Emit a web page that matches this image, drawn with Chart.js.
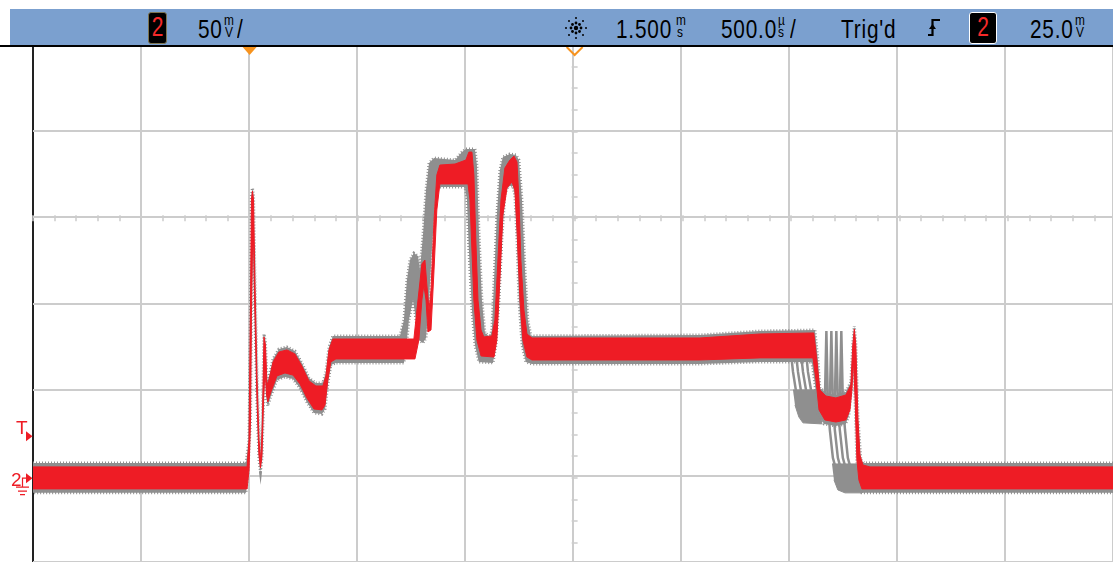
<!DOCTYPE html>
<html>
<head>
<meta charset="utf-8">
<script src="https://cdn.jsdelivr.net/npm/chart.js@4.4.1/dist/chart.umd.min.js"></script>
<style>
body{margin:0;background:#fff;overflow:hidden;}
#wrap{position:relative;width:1113px;height:562px;}
#scope{position:absolute;left:0;top:0;}
#bar{position:absolute;left:10px;top:9px;width:1103px;height:36px;background:#7ba0cf;}
#rule{position:absolute;left:0;top:45px;width:1113px;height:2px;background:#000;}
.t{position:absolute;top:16px;font:26px/26px "Liberation Sans",Arial,sans-serif;color:#000;transform:scaleX(0.8);transform-origin:0 0;letter-spacing:1px;white-space:nowrap;}
.u{position:absolute;font:14px/14px "Liberation Sans",Arial,sans-serif;color:#000;transform:scaleX(0.85);transform-origin:0 0;}
.box{position:absolute;top:12px;height:30px;background:#000;border-radius:3px;text-align:center;}
.box span{display:block;font:28px/28px "Liberation Sans",Arial,sans-serif;color:#f52a2a;transform:scaleX(0.75);}
svg{position:absolute;}
</style>
</head>
<body>
<div id="wrap">
  <canvas id="scope" width="1113" height="562"></canvas>
  <div id="bar"></div>
  <div id="rule"></div>
  <div class="box" style="left:148px;width:17px;border:1px solid #7d7450;"><span>2</span></div>
  <div class="t" style="left:198px">50</div>
  <div class="u" style="left:224px;top:13px">m</div>
  <div class="u" style="left:225px;top:25px">V</div>
  <div class="t" style="left:237px">/</div>
  <svg style="left:562px;top:14px" width="28" height="28" viewBox="0 0 28 28">
    <circle cx="14" cy="14" r="2.2"/>
    <g fill="#000">
      <circle cx="19" cy="14" r="1.4"/><circle cx="9" cy="14" r="1.4"/><circle cx="14" cy="19" r="1.4"/><circle cx="14" cy="9" r="1.4"/>
      <circle cx="17.5" cy="17.5" r="1.4"/><circle cx="10.5" cy="10.5" r="1.4"/><circle cx="17.5" cy="10.5" r="1.4"/><circle cx="10.5" cy="17.5" r="1.4"/>
      <circle cx="24" cy="14" r="1"/><circle cx="4" cy="14" r="1"/><circle cx="14" cy="24" r="1"/><circle cx="14" cy="4" r="1"/>
      <circle cx="21" cy="21" r="1"/><circle cx="7" cy="7" r="1"/><circle cx="21" cy="7" r="1"/><circle cx="7" cy="21" r="1"/>
    </g>
  </svg>
  <div class="t" style="left:616px">1.500</div>
  <div class="u" style="left:676px;top:13px">m</div>
  <div class="u" style="left:677px;top:25px">s</div>
  <div class="t" style="left:721px">500.0</div>
  <div class="u" style="left:778px;top:13px">µ</div>
  <div class="u" style="left:778px;top:25px">s</div>
  <div class="t" style="left:790px">/</div>
  <div class="t" style="left:841px">Trig'd</div>
  <svg style="left:926px;top:17px" width="16" height="22" viewBox="0 0 16 22">
    <path d="M2 18 H6.5 V3 H14" fill="none" stroke="#000" stroke-width="2.2"/>
    <path d="M3 12 L6.5 7 L10 12 Z" fill="#000"/>
  </svg>
  <div class="box" style="left:969px;width:26px;border:1px solid #fff;"><span>2</span></div>
  <div class="t" style="left:1030px">25.0</div>
  <div class="u" style="left:1075px;top:13px">m</div>
  <div class="u" style="left:1076px;top:25px">V</div>
</div>
<script>
// time in microseconds, level in millivolts
const timeDiv = 500;
const voltDiv = 50;
const xMin = -1000;
const xMax = 3985;
const yMin = -48.4;
const yMax = 250;
const triggerTime = 0;
const delayTime = 1500;
const centerLevel = 150;
const triggerLevel = 25;
const groundLevel = 0;

// red trace (current acquisition), upper and lower edge of the noise band
const redTop = [[-1000,6.5],[-12,6.5],[-3,22.0],[4,102.8],[8,160.5],[13,165.7],[18,160.5],[24,114.4],[34,56.7],[43,22.0],[52,9.3],[59,33.6],[66,81.5],[73,76.9],[80,53.8],[89,56.7],[108,67.1],[135,72.8],[172,74.0],[209,71.7],[241,64.7],[274,56.1],[306,53.2],[338,53.2],[352,59.0],[366,74.0],[384,80.3],[758,80.3],[777,102.8],[795,123.6],[809,125.9],[818,111.5],[828,97.1],[837,108.6],[851,149.0],[864,175.0],[878,180.7],[948,181.3],[998,183.6],[1012,188.2],[1026,188.2],[1035,175.0],[1044,137.4],[1054,102.8],[1068,85.5],[1081,81.5],[1118,82.1],[1132,91.3],[1146,125.9],[1160,160.5],[1178,179.0],[1201,183.6],[1220,185.9],[1234,182.5],[1243,160.5],[1252,125.9],[1266,97.1],[1280,83.2],[1303,80.9],[2078,80.9],[2355,83.2],[2604,83.8],[2618,68.2],[2632,50.9],[2660,47.4],[2706,46.3],[2752,48.0],[2775,53.8],[2784,76.9],[2791,86.1],[2798,76.9],[2808,33.6],[2817,13.4],[2831,7.6],[2863,6.5],[3985,6.5]];
const redBottom = [[-1000,-6.2],[-12,-6.2],[-3,4.7],[4,33.6],[8,91.3],[13,131.7],[18,137.4],[24,97.1],[34,45.1],[43,13.4],[50,5.9],[57,13.4],[64,45.1],[71,62.4],[78,48.0],[84,44.0],[98,49.7],[126,59.0],[163,60.7],[200,59.5],[232,54.4],[264,46.3],[297,39.9],[334,39.4],[348,42.2],[361,56.7],[375,67.1],[398,68.8],[763,68.8],[781,79.7],[795,102.8],[804,111.5],[814,102.8],[823,84.4],[837,85.5],[851,120.1],[864,154.8],[878,169.8],[1008,169.8],[1017,160.5],[1026,131.7],[1035,102.8],[1049,79.7],[1068,70.5],[1128,69.9],[1141,79.7],[1155,114.4],[1169,151.9],[1188,167.5],[1211,170.9],[1224,166.3],[1234,143.2],[1248,102.8],[1261,79.7],[1280,69.9],[1303,68.2],[2078,68.2],[2355,69.4],[2600,69.4],[2614,56.7],[2628,39.4],[2655,33.6],[2706,32.4],[2752,33.6],[2771,39.4],[2780,50.9],[2787,68.2],[2794,48.0],[2803,10.5],[2812,-1.0],[2826,-6.2],[3985,-6.2]];

// grey persistence of earlier acquisitions
const greyTop = [[-1000,8.8],[-17,8.8],[-3,22.0],[4,102.8],[8,163.4],[13,167.5],[18,162.8],[24,117.3],[34,59.5],[43,23.2],[52,10.5],[59,36.5],[66,83.2],[73,78.6],[80,55.5],[89,58.4],[108,68.8],[135,74.5],[172,75.7],[209,73.4],[241,66.5],[274,57.8],[306,54.9],[338,54.9],[352,61.3],[366,75.7],[384,82.1],[694,82.1],[712,91.3],[726,114.4],[740,125.9],[758,129.9],[777,128.2],[786,120.1],[800,140.3],[814,166.3],[828,181.9],[851,184.8],[948,183.6],[980,188.2],[998,190.0],[1040,190.0],[1049,180.7],[1058,143.2],[1072,102.8],[1086,83.8],[1109,81.5],[1118,85.5],[1128,114.4],[1141,151.9],[1155,177.8],[1169,185.3],[1201,187.1],[1229,186.5],[1243,183.6],[1257,160.5],[1271,120.1],[1284,91.3],[1298,82.1],[2078,82.6],[2355,84.9],[2609,85.5],[2623,68.2],[2632,52.0],[2660,49.2],[2706,48.0],[2752,49.7],[2775,55.5],[2784,78.0],[2791,87.8],[2798,78.0],[2808,34.7],[2821,10.5],[2835,8.8],[3985,8.8]];
const greyBottom = [[-1000,-8.5],[-17,-8.5],[-8,3.6],[4,33.6],[8,90.1],[13,128.8],[18,134.6],[24,94.2],[34,42.8],[43,10.5],[50,3.6],[57,11.7],[64,43.4],[71,60.1],[78,45.7],[84,41.7],[98,47.4],[126,56.7],[163,58.4],[200,57.2],[232,52.0],[264,44.0],[297,37.6],[334,37.0],[348,39.9],[361,54.4],[375,65.3],[398,66.5],[712,66.5],[721,74.0],[735,91.3],[754,102.8],[768,91.3],[781,79.7],[800,78.0],[814,80.9],[828,102.8],[841,131.7],[855,157.6],[869,168.0],[994,168.0],[1003,160.5],[1012,131.7],[1026,97.1],[1040,76.9],[1058,67.1],[1123,66.5],[1137,76.9],[1151,102.8],[1164,137.4],[1178,163.4],[1192,168.6],[1215,168.6],[1224,163.4],[1234,137.4],[1243,102.8],[1257,76.9],[1275,67.1],[1303,65.9],[2078,65.9],[2355,67.1],[2595,67.1],[2609,54.4],[2623,37.6],[2651,31.3],[2706,30.1],[2752,31.3],[2766,36.5],[2775,48.0],[2787,65.3],[2794,46.3],[2803,8.8],[2812,-2.8],[2826,-8.5],[3985,-8.5]];
const greyShelf = [[2508,50.9],[2632,50.9],[2641,31.3],[2554,31.9],[2535,35.3],[2517,42.2]];
const greyTail = [[2688,8.2],[2826,8.2],[2826,-8.5],[2748,-8.5],[2715,-6.8],[2697,-1.0]];
const ghostA = [[2448,74.0],[2498,72.8],[2508,61.3],[2521,50.9],[2540,45.1],[2641,42.8],[2655,44.0],[2662,84.9],[2669,44.0],[2678,27.8],[2692,11.7],[2711,3.0],[2748,0.1]];
const ghostB = [[2471,74.0],[2521,72.8],[2531,61.3],[2544,50.9],[2563,45.1],[2660,42.8],[2678,44.0],[2685,84.9],[2692,44.0],[2701,27.8],[2715,11.7],[2734,3.0],[2771,0.1]];
const ghostC = [[2494,74.0],[2544,72.8],[2554,61.3],[2568,50.9],[2586,45.1],[2688,42.8],[2701,44.0],[2708,84.9],[2715,44.0],[2724,27.8],[2738,11.7],[2757,3.0],[2794,0.1]];
const ghostD = [[2517,74.0],[2568,72.8],[2577,61.3],[2591,50.9],[2609,45.1],[2715,42.8],[2724,44.0],[2731,84.9],[2738,44.0],[2748,27.8],[2761,11.7],[2780,3.0],[2817,0.1]];

const red = "#ee1c25";
const grey = "#8f8f8f";
const gridColor = "#cccccc";
const orange = "#f7931e";

const pts = (arr) => arr.map(([x, y]) => ({ x, y }));
const band = (top, bottom) => pts(top.concat(bottom.slice().reverse()));

// dashed border gives the speckled noise fringe of the persistence display
const shape = (data, color, fringe) => ({
  data,
  fill: "shape",
  backgroundColor: color,
  borderColor: color,
  borderWidth: fringe ? 3 : 1,
  borderDash: fringe ? [1, 2] : [],
  pointRadius: 0,
});
const ghost = (data) => ({
  data: pts(data),
  fill: false,
  borderColor: grey,
  borderWidth: 2.5,
  pointRadius: 0,
});

const scopeMarks = {
  id: "scopeMarks",
  beforeDatasetsDraw(chart) {
    const { ctx, scales: { x, y } } = chart;
    const cx = x.getPixelForValue(delayTime);
    const cy = y.getPixelForValue(centerLevel);
    ctx.save();
    ctx.strokeStyle = gridColor;
    ctx.lineWidth = 1.5;
    ctx.beginPath();
    for (let t = xMin; t <= xMax; t += timeDiv / 5) {
      const px = Math.round(x.getPixelForValue(t));
      ctx.moveTo(px, cy - 3);
      ctx.lineTo(px, cy + 3);
    }
    for (let v = Math.ceil(yMin / (voltDiv / 4)) * (voltDiv / 4); v <= yMax; v += voltDiv / 4) {
      const py = Math.round(y.getPixelForValue(v));
      ctx.moveTo(cx - 3, py);
      ctx.lineTo(cx + 3, py);
    }
    ctx.stroke();
    ctx.restore();
  },
  afterDraw(chart) {
    const { ctx, chartArea: a, scales: { x, y } } = chart;
    ctx.save();
    // trigger position and delay markers
    const tx = x.getPixelForValue(triggerTime);
    ctx.fillStyle = orange;
    ctx.beginPath();
    ctx.moveTo(tx - 7, a.top + 2);
    ctx.lineTo(tx + 7, a.top + 2);
    ctx.lineTo(tx, a.top + 10);
    ctx.closePath();
    ctx.fill();
    const dx = x.getPixelForValue(delayTime);
    ctx.strokeStyle = orange;
    ctx.lineWidth = 2;
    ctx.beginPath();
    ctx.moveTo(dx - 8, a.top + 2);
    ctx.lineTo(dx, a.top + 10);
    ctx.lineTo(dx + 8, a.top + 2);
    ctx.stroke();

    // left markers: trigger level and channel ground
    ctx.fillStyle = red;
    ctx.strokeStyle = red;
    const ty = y.getPixelForValue(triggerLevel) + 1.5;
    const gy = y.getPixelForValue(groundLevel);
    ctx.font = '19px "Liberation Sans", Arial, sans-serif';
    ctx.textBaseline = "alphabetic";
    ctx.fillText("T", 16, ty - 2);
    ctx.fillText("2", 11, gy + 7.5);
    [ty, gy].forEach((yy) => {
      ctx.beginPath();
      ctx.moveTo(26, yy - 5);
      ctx.lineTo(32.5, yy);
      ctx.lineTo(26, yy + 5);
      ctx.closePath();
      ctx.fill();
    });
    ctx.lineWidth = 1.2;
    ctx.beginPath();
    ctx.moveTo(26, gy);
    ctx.lineTo(22.5, gy);
    ctx.lineTo(22.5, gy + 9);
    ctx.moveTo(16, gy + 9);
    ctx.lineTo(29, gy + 9);
    ctx.moveTo(18, gy + 13);
    ctx.lineTo(27, gy + 13);
    ctx.moveTo(20, gy + 16.5);
    ctx.lineTo(25, gy + 16.5);
    ctx.stroke();
    ctx.restore();
  },
};

new Chart(document.getElementById("scope"), {
  type: "line",
  data: {
    datasets: [
      shape(band(redTop, redBottom), red, false),
      shape(band(greyTop, greyBottom), grey, true),
      shape(pts(greyShelf), grey, false),
      shape(pts(greyTail), grey, false),
      ghost(ghostA),
      ghost(ghostB),
      ghost(ghostC),
      ghost(ghostD),
    ],
  },
  options: {
    responsive: false,
    animation: false,
    events: [],
    devicePixelRatio: 1,
    layout: { autoPadding: false, padding: { left: 33, top: 45, right: 0, bottom: 0 } },
    elements: { line: { tension: 0 } },
    plugins: { legend: { display: false }, tooltip: { enabled: false } },
    scales: {
      x: {
        type: "linear",
        min: xMin,
        max: xMax,
        border: { display: false },
        ticks: { display: false, stepSize: timeDiv, includeBounds: false },
        grid: {
          drawTicks: false,
          lineWidth: 2,
          color: (c) => (c.tick && c.tick.value === xMin ? "#222" : gridColor),
        },
      },
      y: {
        type: "linear",
        min: yMin,
        max: yMax,
        border: { display: false },
        ticks: { display: false, stepSize: voltDiv, includeBounds: false },
        grid: {
          drawTicks: false,
          lineWidth: 2,
          color: (c) => (c.tick && c.tick.value === yMax ? "rgba(0,0,0,0)" : gridColor),
        },
      },
    },
  },
  plugins: [scopeMarks],
});
</script>
</body>
</html>
